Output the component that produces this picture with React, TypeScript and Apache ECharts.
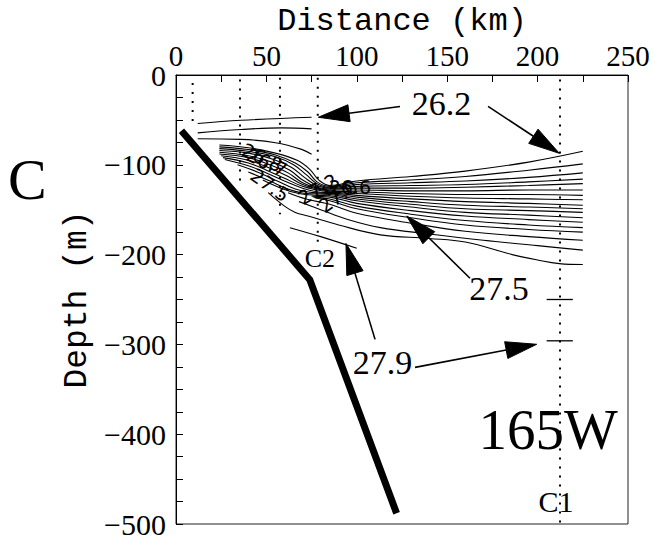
import React, { useEffect, useRef } from 'react';
import * as echarts from 'echarts';

// ---------- data (distance km, depth m) ----------
const distanceMin = 0;
const distanceMax = 250;
const depthMin = -500;
const depthMax = 0;
const xTickLabels = [0, 50, 100, 150, 200, 250];
const yTickLabels = [0, -100, -200, -300, -400, -500];

const bathymetry = [[3, -62], [74, -228], [122, -488]];

const stationDistances = [9.2, 35.4, 57.5, 78.4, 212.4];
const stationTopDepths = [-9, -5, -3, -3, -5];
const stationBottomDepths = [-53, -118, -155, -188, -500];

const shelf1 = [[12, -54], [36, -50.4], [75, -47]];
const shelf2 = [[12, -64.4], [36, -60.7], [58.5, -58.9], [75, -60]];
const shelf3 = [[12, -71], [36, -71.7], [55, -75.4], [69.5, -82.8], [75, -88.3]];

const contour01 = [[24, -78], [40, -81], [55, -87], [67, -95], [74, -105], [79, -117], [85, -123], [100, -118], [130, -113], [160, -107], [195, -97], [225, -85]];
const contour02 = [[24, -80], [40, -83], [55, -89], [66, -98], [73, -108], [78, -119], [85, -124], [100, -120], [130, -117], [160, -113], [195, -106], [225, -99]];
const contour03 = [[24, -82], [40, -85], [55, -91], [65, -100], [72, -111], [78, -121], [85, -125], [100, -122], [130, -120], [160, -118], [195, -114], [225, -109]];
const contour04 = [[24, -84], [40, -87], [54, -94], [64, -103], [71, -114], [78, -123], [85, -126], [100, -124], [130, -123], [160, -122], [195, -119], [225, -116]];
const contour05 = [[24, -86], [40, -90], [53, -97], [63, -106], [70, -117], [78, -125], [85, -127], [100, -126], [130, -126], [160, -125], [195, -123], [225, -121]];
const contour06 = [[24, -88], [40, -92], [52, -100], [62, -109], [70, -120], [78, -126], [85, -128], [100, -128], [130, -129], [160, -129], [195, -128], [225, -128]];
const contour07 = [[25, -90], [40, -95], [51, -103], [61, -112], [70, -122], [78, -127], [85, -129], [100, -130], [130, -132], [160, -133], [195, -133], [225, -134]];
const contour08 = [[26, -92], [40, -98], [50, -106], [60, -115], [70, -124], [78, -128], [85, -130], [100, -132], [130, -135], [160, -137], [195, -138], [225, -139]];
const contour09 = [[27, -94], [40, -101], [50, -109], [60, -118], [70, -126], [78, -130], [85, -131], [100, -134], [130, -138], [160, -141], [195, -143], [225, -145]];
const contour10 = [[34, -100], [45, -108], [56, -118], [66, -127], [76, -131], [85, -132], [100, -136], [130, -141], [160, -145], [195, -147], [225, -149]];
const contour11 = [[40, -108], [52, -118], [62, -127], [72, -132], [85, -133], [100, -138], [130, -144], [160, -149], [195, -151], [225, -153]];
const contour12 = [[48, -117], [58, -126], [68, -132], [78, -134], [85, -134.5], [100, -140], [130, -147], [160, -153], [195, -156], [225, -159]];
const contour13 = [[75, -135], [85, -136], [100, -143], [130, -151], [160, -157], [195, -161], [225, -164]];
const contour14 = [[76, -136], [85, -138], [100, -146], [130, -155], [160, -162], [195, -167], [225, -170]];
const contour15 = [[77, -137], [85, -140], [100, -149], [130, -159], [160, -167], [195, -172], [225, -175]];
const contour16 = [[62, -131], [72, -138], [85, -144], [100, -154], [130, -165], [160, -174], [195, -180], [225, -184]];
const contour17 = [[68, -141], [80, -150], [95, -161], [113, -170], [140, -177], [170, -184], [200, -190], [225, -195]];
const contour18 = [[51, -131], [60, -146], [66, -153], [73, -157], [90, -167], [113, -178], [140, -182], [160, -186], [186, -200], [200, -206], [212, -210], [225, -211]];
const contour279 = [[63, -170], [80, -180], [100, -193]];

const c1MarkDepths = [-250, -296];
const c1MarkSpan = [205, 219.5];

// annotations
const arrowTails = [[123.9, -35], [172.6, -35], [162.6, -226.3], [110.1, -294.4], [132.2, -325.6]];
const arrowTips = [[78.7, -47.1], [212, -87.2], [127.6, -157], [94, -187.6], [199.5, -299.9]];

const bigLabels = ['26.2', '27.5', '27.9'];
const bigLabelPos = [[146.8, -32], [178.6, -238], [114.2, -320.6]];

const contourLabels = ['26.8', '26.7', '27.5', '27.2', '26.6', '27.0'];
const contourLabelPos = [[47.6, -91.6], [50.3, -97.1], [52, -122.5], [78.5, -126.9], [96.2, -124.7], [89.6, -134.7]];
const contourLabelRot = [-25, -25, -35, 30, 0, 35];

export default function App() {
  const ref = useRef<HTMLDivElement>(null);

  useEffect(() => {
    const el = ref.current as HTMLDivElement;
    const chart = echarts.init(el, null, { renderer: 'svg' });
    const black = '#000';
    const serif = 'Liberation Serif';

    const lineSeries = (data: number[][], width: number, extra: any = {}) => ({
      type: 'line',
      data,
      symbol: 'none',
      silent: true,
      smooth: 0.4,
      lineStyle: { color: black, width },
      z: 3,
      ...extra,
    });

    const series: any[] = [];
    [shelf1, shelf2, shelf3].forEach((c) => series.push(lineSeries(c, 1.1)));
    [contour01, contour02, contour03, contour04, contour05, contour06, contour07, contour08, contour09,
      contour10, contour11, contour12, contour13, contour14, contour15, contour16, contour17, contour18,
      contour279].forEach((c) => series.push(lineSeries(c, 1.1)));
    stationDistances.forEach((d, i) => {
      series.push(lineSeries([[d, stationTopDepths[i]], [d, stationBottomDepths[i]]], 2, {
        smooth: false,
        lineStyle: { color: black, width: 2, type: [2, 7] },
        z: 2,
      }));
    });
    c1MarkDepths.forEach((dep) => {
      series.push(lineSeries([[c1MarkSpan[0], dep], [c1MarkSpan[1], dep]], 1.3, { smooth: false }));
    });
    series.push(lineSeries(bathymetry, 7, { smooth: false, z: 5, lineStyle: { color: black, width: 7, join: 'miter', cap: 'butt' } }));

    chart.setOption({
      animation: false,
      grid: { left: 176, top: 75, width: 452, height: 453, show: true, borderColor: '#222', borderWidth: 1, backgroundColor: 'transparent' },
      xAxis: {
        type: 'value',
        position: 'top',
        min: distanceMin,
        max: distanceMax,
        interval: 25,
        name: 'Distance (km)',
        nameLocation: 'middle',
        nameGap: 43,
        nameMoveOverlap: false,
        nameTextStyle: { fontFamily: 'Liberation Mono', fontSize: 32, lineHeight: 22, color: black },
        axisLine: { show: true, onZero: false, lineStyle: { color: black, width: 1 } },
        axisTick: { show: true, inside: true, length: 7, lineStyle: { color: black } },
        splitLine: { show: false },
        axisLabel: {
          margin: 9.5,
          fontFamily: serif,
          fontSize: 29,
          lineHeight: 20,
          color: black,
          formatter: (v: number) => (xTickLabels.includes(v) ? String(v) : ''),
        },
      },
      yAxis: {
        type: 'value',
        min: depthMin,
        max: depthMax,
        interval: 25,
        name: 'Depth (m)',
        nameLocation: 'middle',
        nameGap: 82,
        nameMoveOverlap: false,
        nameRotate: 90,
        nameTextStyle: { fontFamily: 'Liberation Mono', fontSize: 33, color: black },
        axisLine: { show: true, onZero: false, lineStyle: { color: black, width: 1 } },
        axisTick: { show: true, inside: true, length: 7, lineStyle: { color: black } },
        splitLine: { show: false },
        axisLabel: {
          margin: 10,
          fontFamily: serif,
          fontSize: 30,
          color: black,
          padding: [11, 0, 0, 0],
          formatter: (v: number) => (yTickLabels.includes(v) ? (v === 0 ? '0' : '\u2212' + Math.abs(v)) : ''),
        },
      },
      series,
    });

    const px = (p: number[]) => chart.convertToPixel({ gridIndex: 0 }, p) as number[];
    const graphics: any[] = [];

    // big panel letter
    graphics.push({
      type: 'text', x: 8, y: 179, silent: true,
      style: { text: 'C', fontFamily: serif, fontSize: 58, fill: black, align: 'left', verticalAlign: 'middle' },
    });

    // arrows
    const headLen = 31;
    const headHalf = 8.5;
    arrowTails.forEach((t, i) => {
      const a = px(t);
      const b = px(arrowTips[i]);
      const dx = b[0] - a[0];
      const dy = b[1] - a[1];
      const L = Math.sqrt(dx * dx + dy * dy);
      const ux = dx / L;
      const uy = dy / L;
      const bx = b[0] - ux * headLen;
      const by = b[1] - uy * headLen;
      graphics.push({
        type: 'line', silent: true, z: 10,
        shape: { x1: a[0], y1: a[1], x2: bx, y2: by },
        style: { stroke: black, lineWidth: 1.6 },
      });
      graphics.push({
        type: 'polygon', silent: true, z: 10,
        shape: { points: [[b[0], b[1]], [bx - uy * headHalf, by + ux * headHalf], [bx + uy * headHalf, by - ux * headHalf]] },
        style: { fill: black, stroke: black, lineWidth: 1 },
      });
    });

    bigLabels.forEach((t, i) => {
      const p = px(bigLabelPos[i]);
      graphics.push({
        type: 'text', x: p[0], y: p[1], silent: true, z: 11,
        style: { text: t, fontFamily: serif, fontSize: 34, fill: black, align: 'center', verticalAlign: 'middle' },
      });
    });

    const p165 = px([205.8, -395]);
    graphics.push({
      type: 'text', x: p165[0], y: p165[1], silent: true, z: 11,
      style: { text: '165W', fontFamily: serif, fontSize: 57, fill: black, align: 'center', verticalAlign: 'middle' },
    });
    const pC1 = px([210.2, -474.5]);
    graphics.push({
      type: 'text', x: pC1[0], y: pC1[1], silent: true, z: 11,
      style: { text: 'C1', fontFamily: serif, fontSize: 30, fill: black, align: 'center', verticalAlign: 'middle' },
    });
    const pC2 = px([79.6, -204]);
    graphics.push({
      type: 'text', x: pC2[0], y: pC2[1], silent: true, z: 11,
      style: { text: 'C2', fontFamily: serif, fontSize: 26, fill: black, align: 'center', verticalAlign: 'middle' },
    });

    contourLabels.forEach((t, i) => {
      const p = px(contourLabelPos[i]);
      graphics.push({
        type: 'text', x: p[0], y: p[1], silent: true, z: 9,
        rotation: (contourLabelRot[i] * Math.PI) / 180,
        style: { text: t, fontFamily: 'DejaVu Sans', fontSize: 19, fill: black, align: 'center', verticalAlign: 'middle' },
      });
    });

    chart.setOption({ graphic: graphics });

    return () => chart.dispose();
  }, []);

  return <div ref={ref} style={{ position: 'absolute', left: 0, top: 0, width: 655, height: 539 }} />;
}
